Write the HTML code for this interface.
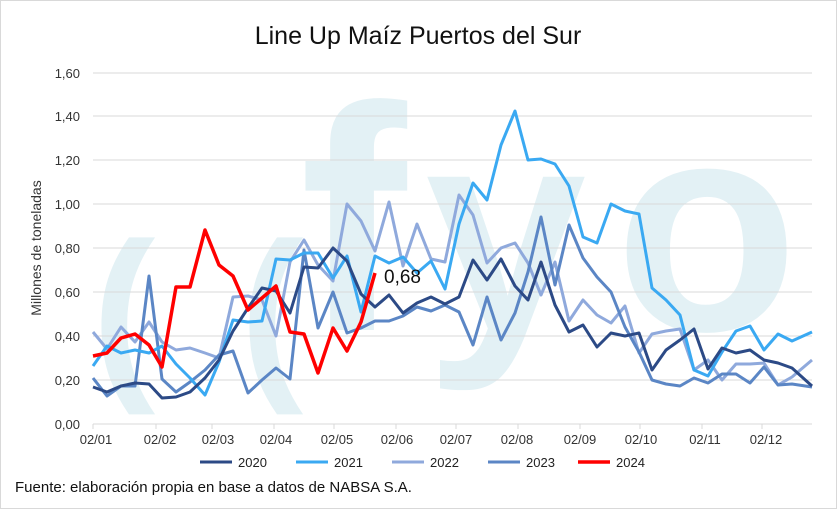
<!DOCTYPE html>
<html><head><meta charset="utf-8"><style>
body{margin:0;background:#fff}
svg{display:block;font-family:"Liberation Sans",sans-serif}
</style></head><body>
<svg width="837" height="509" viewBox="0 0 837 509">
<rect x="0.5" y="0.5" width="836" height="508" fill="#fff" stroke="#d9d9d9"/>
<g fill="#e3f1f5" font-weight="bold">
<text x="92" y="375" font-size="190">(</text>
<text x="240" y="375" font-size="190">(</text>
<text x="300" y="330" font-size="320">f</text>
<text x="425" y="330" font-size="290">y</text>
<text x="615" y="330" font-size="300">o</text>
</g>
<text x="418" y="44" text-anchor="middle" font-size="25" fill="#111">Line Up Maíz Puertos del Sur</text>
<g stroke="#d9d9d9" stroke-width="1">
<line x1="93" x2="812" y1="73" y2="73"/><line x1="93" x2="812" y1="116" y2="116"/>
<line x1="93" x2="812" y1="160" y2="160"/><line x1="93" x2="812" y1="204" y2="204"/>
<line x1="93" x2="812" y1="248" y2="248"/><line x1="93" x2="812" y1="292" y2="292"/>
<line x1="93" x2="812" y1="336" y2="336"/><line x1="93" x2="812" y1="380" y2="380"/>
<line x1="93" x2="812" y1="424" y2="424"/>
<g><line x1="93" x2="93" y1="424" y2="429"/><line x1="156" x2="156" y1="424" y2="429"/><line x1="212" x2="212" y1="424" y2="429"/><line x1="274" x2="274" y1="424" y2="429"/><line x1="334" x2="334" y1="424" y2="429"/><line x1="396" x2="396" y1="424" y2="429"/><line x1="456" x2="456" y1="424" y2="429"/><line x1="518" x2="518" y1="424" y2="429"/><line x1="580" x2="580" y1="424" y2="429"/><line x1="640" x2="640" y1="424" y2="429"/><line x1="702" x2="702" y1="424" y2="429"/><line x1="762" x2="762" y1="424" y2="429"/></g>
</g>
<g font-size="13" fill="#333" text-anchor="end">
<text x="80" y="78">1,60</text><text x="80" y="121">1,40</text><text x="80" y="165">1,20</text>
<text x="80" y="209">1,00</text><text x="80" y="253">0,80</text><text x="80" y="297">0,60</text>
<text x="80" y="341">0,40</text><text x="80" y="385">0,20</text><text x="80" y="429">0,00</text>
</g>
<g font-size="13" fill="#333" text-anchor="middle">
<text x="96" y="444">02/01</text><text x="160" y="444">02/02</text><text x="218" y="444">02/03</text><text x="276" y="444">02/04</text><text x="337" y="444">02/05</text><text x="397" y="444">02/06</text><text x="456" y="444">02/07</text><text x="517" y="444">02/08</text><text x="580" y="444">02/09</text><text x="641" y="444">02/10</text><text x="705" y="444">02/11</text><text x="766" y="444">02/12</text>
</g>
<text transform="translate(41,248) rotate(-90)" text-anchor="middle" font-size="14" fill="#333">Millones de toneladas</text>
<g fill="none" stroke-width="3" stroke-linejoin="round">
<polyline stroke="#8fa9dc" points="93,332 107,349 121,327 135,342 149,322 162,342 176,350 190,348 205,353 219,358 233,297 248,296 262,300 276,336 290,262 304,240 318,265 333,281 347,204 361,221 375,251 389,202 403,266 417,224 431,259 445,262 459,195 473,215 487,263 501,248 515,243 528,263 541,295 555,262 569,321 583,300 597,315 611,323 625,306 639,353 652,334 666,331 680,329 694,370 708,360 722,380 736,364 750,364 764,363 778,385 792,377 812,360"/>
<polyline stroke="#5b86c5" points="93,378 107,396 121,386 135,386 149,276 162,379 176,392 190,382 205,370 219,355 233,351 248,393 262,380 276,368 290,379 304,250 318,328 333,292 347,333 361,328 375,321 389,321 403,316 417,307 431,311 445,305 459,312 473,345 487,297 501,340 515,313 528,272 541,217 555,285 569,225 583,258 597,277 611,292 625,327 639,352 652,380 666,384 680,386 694,378 708,383 722,374 736,374 750,383 764,367 778,385 792,384 812,387"/>
<polyline stroke="#3aa9f2" points="93,366 107,346 121,353 135,350 149,353 162,346 176,364 190,378 205,395 219,362 233,320 248,322 262,321 276,259 290,260 304,253 318,253 333,278 347,256 361,312 375,256 389,263 403,257 417,273 431,261 445,289 459,224 473,183 487,200 501,145 515,111 528,160 541,159 555,164 569,186 583,237 597,243 611,204 625,211 639,214 652,288 666,300 680,315 694,370 708,376 722,352 736,331 750,326 764,350 778,334 792,341 812,332"/>
<polyline stroke="#2c4a86" points="93,387 107,392 121,386 135,383 149,384 162,398 176,397 190,392 205,378 219,360 233,331 248,308 262,288 276,291 290,313 304,267 318,268 333,248 347,261 361,294 375,307 389,295 403,313 417,303 431,297 445,304 459,297 473,260 487,280 501,259 515,286 528,300 541,262 555,305 569,332 583,325 597,347 611,333 625,336 639,333 652,370 666,350 680,340 694,329 708,369 722,348 736,353 750,350 764,360 778,363 792,368 812,386"/>
<polyline stroke="#ff0000" stroke-width="3.5" points="93,356 107,353 121,338 135,334 149,345 162,367 176,287 190,287 205,230 219,265 233,276 248,310 262,298 276,286 290,332 304,334 318,373 333,328 347,351 361,322 375,273"/>
</g>
<text x="384" y="283" font-size="19" fill="#111">0,68</text>
<g font-size="13" fill="#222">
<line x1="200" x2="232" y1="462" y2="462" stroke="#2c4a86" stroke-width="3"/><text x="238" y="467">2020</text>
<line x1="296" x2="328" y1="462" y2="462" stroke="#3aa9f2" stroke-width="3"/><text x="334" y="467">2021</text>
<line x1="392" x2="424" y1="462" y2="462" stroke="#8fa9dc" stroke-width="3"/><text x="430" y="467">2022</text>
<line x1="488" x2="520" y1="462" y2="462" stroke="#5b86c5" stroke-width="3"/><text x="526" y="467">2023</text>
<line x1="578" x2="610" y1="462" y2="462" stroke="#ff0000" stroke-width="3.5"/><text x="616" y="467">2024</text>
</g>
<text x="15" y="492" font-size="15" fill="#111">Fuente: elaboración propia en base a datos de NABSA S.A.</text>
</svg>
</body></html>
